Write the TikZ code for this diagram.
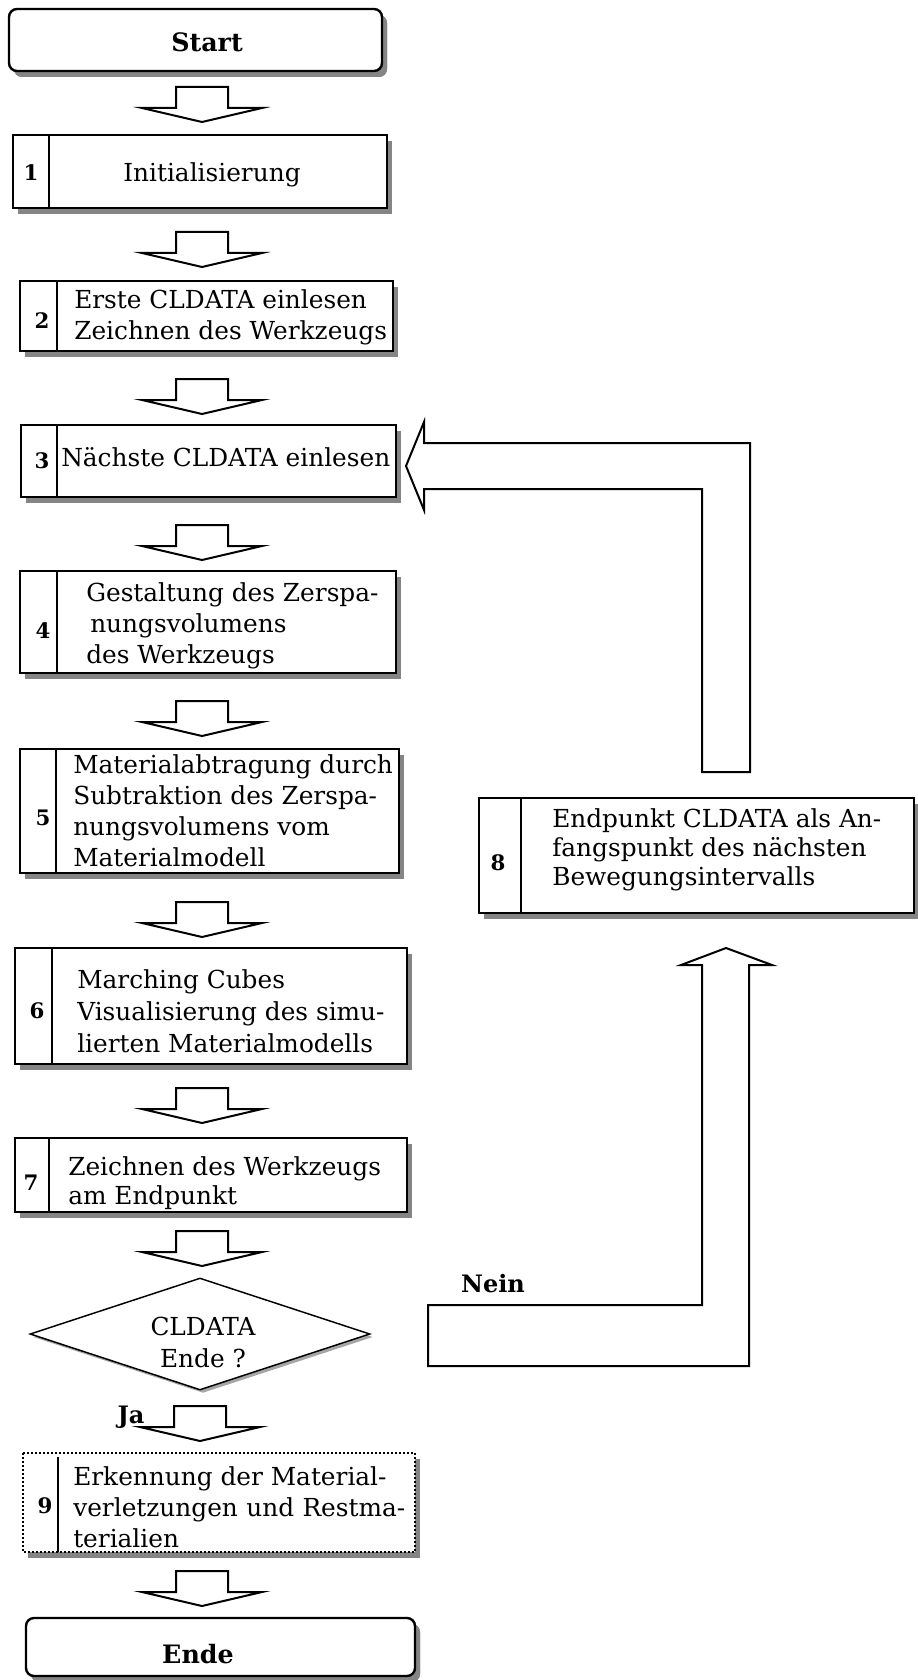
\documentclass[tikz,border=0pt]{standalone}
\usepackage{fontspec}
\setmainfont{DejaVu Serif}
\usetikzlibrary{shapes.geometric,shadows,calc}

\newcommand\flowbox[6][]{%
  \node[stepbox,#1,minimum width={(#4-#2)*0.75pt},minimum height={(#6-#3)*0.75pt}] (#5) at ({(#2+#4)/2},{(#3+#6)/2}) {};}

\tikzset{
  shadowed/.style={drop shadow={shadow xshift=3.75pt,shadow yshift=-4.5pt,fill=black!48,opacity=1}},
  stepbox/.style={draw=black,line width=1.8pt,fill=white,shadowed,inner sep=0pt,outer sep=0pt},
  termbox/.style={stepbox,rounded corners=6pt},
  divline/.style={draw=black,line width=1.8pt},
  blockarrow/.style={draw=black,line width=1.5pt,fill=white,line join=miter},
  bodytext/.style={inner sep=0pt,align=left,font=\fontsize{18.6}{23.25}\selectfont},
  numtext/.style={inner sep=0pt,font=\fontsize{16}{18}\selectfont\bfseries},
  labeltext/.style={inner sep=0pt,font=\fontsize{18}{21}\selectfont\bfseries},
  termtext/.style={inner sep=0pt,font=\fontsize{19}{22}\selectfont\bfseries},
  dnarrow/.pic={\draw[blockarrow] (-26,0) -- (-26,21) -- (-60,21) -- (0,35) -- (60,21) -- (26,21) -- (26,0) -- cycle;}
}

\begin{document}
\begin{tikzpicture}[x=0.75pt,y=-0.75pt]
\useasboundingbox (0,0) rectangle (917,1680);
\fill[white] (0,0) rectangle (917,1680);

% terminals
\flowbox[termbox]{9}{9}{382}{start}{71}
\node[termtext,anchor=base] (tstart) at (207,52) {Start};
\flowbox[termbox]{26}{1618}{415}{ende}{1676}
\node[termtext,anchor=base] (tende) at (198,1663) {Ende};

% step boxes
\flowbox{13}{135}{387}{b1}{208}
\flowbox{20}{281}{393}{b2}{351}
\flowbox{21}{425}{396}{b3}{497}
\flowbox{20}{571}{396}{b4}{673}
\flowbox{20}{749}{399}{b5}{873}
\flowbox{15}{948}{407}{b6}{1064}
\flowbox{15}{1138}{407}{b7}{1212}
\flowbox{479}{798}{914}{b8}{913}
\flowbox[draw=none]{23}{1453}{415}{b9}{1552}
\draw[line width=1.5pt,dash pattern=on 1.4pt off 1.6pt] (b9.north west) rectangle (b9.south east);

% dividers
\draw[divline] ($(b1.north west)+(36,0)$) -- ($(b1.south west)+(36,0)$);
\draw[divline] ($(b2.north west)+(37,0)$) -- ($(b2.south west)+(37,0)$);
\draw[divline] ($(b3.north west)+(36,0)$) -- ($(b3.south west)+(36,0)$);
\draw[divline] ($(b4.north west)+(37,0)$) -- ($(b4.south west)+(37,0)$);
\draw[divline] ($(b5.north west)+(36,0)$) -- ($(b5.south west)+(36,0)$);
\draw[divline] ($(b6.north west)+(37,0)$) -- ($(b6.south west)+(37,0)$);
\draw[divline] ($(b7.north west)+(34,0)$) -- ($(b7.south west)+(34,0)$);
\draw[divline] ($(b8.north west)+(42,0)$) -- ($(b8.south west)+(42,0)$);
\draw[divline] ($(b9.north west)+(35,4)$) -- ($(b9.south west)+(35,0)$);

% numbers
\node[numtext,anchor=base] (n1) at (31,181) {1};
\node[numtext,anchor=base] (n2) at (42,328) {2};
\node[numtext,anchor=base] (n3) at (42,468) {3};
\node[numtext,anchor=base] (n4) at (43,638) {4};
\node[numtext,anchor=base] (n5) at (43,825) {5};
\node[numtext,anchor=base] (n6) at (37,1018) {6};
\node[numtext,anchor=base] (n7) at (31,1190) {7};
\node[numtext,anchor=base] (n8) at (498,870) {8};
\node[numtext,anchor=base] (n9) at (45,1513) {9};

% texts
\node[bodytext,anchor=base] (t1) at (212,182) {Initialisierung};
\node[bodytext,anchor=west] (t2) at (74,317) {Erste CLDATA einlesen\\Zeichnen des Werkzeugs};
\node[bodytext,anchor=base west] (t3) at (61,466) {Nächste CLDATA einlesen};
\node[bodytext,anchor=west] (t4) at (86,626) {Gestaltung des Zerspa-\\\hspace{3pt}nungsvolumens\\des Werkzeugs};
\node[bodytext,anchor=west] (t5) at (73,811) {Materialabtragung durch\\Subtraktion des Zerspa-\\nungsvolumens vom\\Materialmodell};
\node[bodytext,anchor=west,font=\fontsize{18.6}{24}\selectfont] (t6) at (77,1011) {Marching Cubes\\Visualisierung des simu-\\lierten Materialmodells};
\node[bodytext,anchor=west,font=\fontsize{18.6}{21.75}\selectfont] (t7) at (68,1183) {Zeichnen des Werkzeugs\\am Endpunkt};
\node[bodytext,anchor=west,font=\fontsize{18.6}{21.75}\selectfont] (t8) at (552,850) {Endpunkt CLDATA als An-\\fangspunkt des nächsten\\Bewegungsintervalls};
\node[bodytext,anchor=west] (t9) at (73,1507) {Erkennung der Material-\\\makebox[249pt][s]{verletzungen und Restma-}\\terialien};

% decision
\node[diamond,draw=black,line width=1.1pt,fill=white,minimum width=255pt,minimum height=84pt,inner sep=0pt,
      drop shadow={shadow xshift=2.25pt,shadow yshift=-2.25pt,fill=black!35,opacity=1}] (dec) at (200,1334) {};
\node[bodytext,align=center,font=\fontsize{18.6}{24}\selectfont] (tdec) at (203,1342) {CLDATA\\Ende ?};

% block arrows downwards
\pic at (202,87) {dnarrow};
\pic at (202,232) {dnarrow};
\pic at (202,379) {dnarrow};
\pic at (202,525) {dnarrow};
\pic at (202,701) {dnarrow};
\pic at (202,902) {dnarrow};
\pic at (202,1088) {dnarrow};
\pic at (202,1231) {dnarrow};
\pic at (200,1406) {dnarrow};
\pic at (202,1571) {dnarrow};

% feedback arrow 8 -> 3
\draw[blockarrow] (406,466) -- (424,422) -- (424,443) -- (750,443) -- (750,772) -- (702,772)
  -- (702,489) -- (424,489) -- (424,510) -- cycle;
% Nein arrow -> 8
\draw[blockarrow] (428,1305) -- (702,1305) -- (702,965) -- (681,965) -- (726,948) -- (772,965)
  -- (749,965) -- (749,1366) -- (428,1366) -- cycle;

\node[labeltext,anchor=base] (lja) at (131,1423) {Ja};
\node[labeltext,anchor=base] (lnein) at (493,1292) {Nein};
\end{tikzpicture}
\end{document}
